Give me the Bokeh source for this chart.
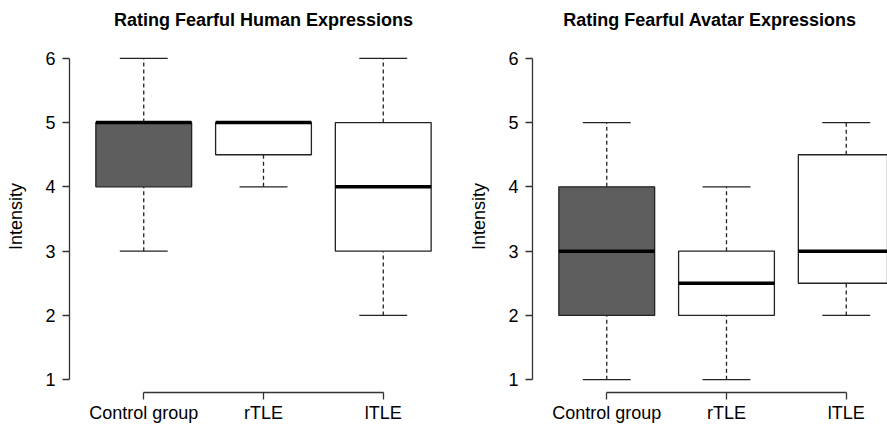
from bokeh.plotting import figure
from bokeh.layouts import row
from bokeh.models import FixedTicker
from bokeh.embed import file_html
from bokeh.resources import INLINE

categories = ["Control group", "rTLE", "lTLE"]
positions = [1, 2, 3]
fills = ["#5e5e5e", "#ffffff", "#ffffff"]

# Human expressions
human_low = [3, 4, 2]
human_q1 = [4, 4.5, 3]
human_med = [5, 5, 4]
human_q3 = [5, 5, 5]
human_high = [6, 5, 6]

# Avatar expressions
avatar_low = [1, 1, 2]
avatar_q1 = [2, 2, 2.5]
avatar_med = [3, 2.5, 3]
avatar_q3 = [4, 3, 4.5]
avatar_high = [5, 4, 5]

y_ticks = [1, 2, 3, 4, 5, 6]

FONT = "Liberation Sans"

TOP = 40
BOTTOM = 33
PX_PER_UNIT = 347 / 5.4
Y_END = 0.8 + (425 - TOP - BOTTOM) / PX_PER_UNIT


def make_panel(title, low, q1, med, q3, high, width, border_left, border_right, x_end):
    p = figure(width=width, height=425, output_backend="svg", toolbar_location=None,
               x_range=(0.38, x_end), y_range=(0.8, Y_END),
               min_border_left=border_left, min_border_right=border_right,
               min_border_top=TOP, min_border_bottom=BOTTOM, title=title)
    p.title.text_font = FONT
    p.title.text_font_size = "18px"
    p.title.text_font_style = "bold"
    p.title.align = "center"
    p.title.vertical_align = "top"
    p.title.text_color = "black"
    p.title.standoff = 18
    p.outline_line_color = None
    p.background_fill_color = "white"
    p.border_fill_color = "white"
    p.grid.visible = False

    bw = 0.8
    cw = 0.2
    # whiskers
    p.segment(x0=positions, y0=q3, x1=positions, y1=high, line_color="#222222",
              line_width=1.3, line_dash="4 3")
    p.segment(x0=positions, y0=low, x1=positions, y1=q1, line_color="#222222",
              line_width=1.3, line_dash="4 3")
    # caps
    p.segment(x0=[x - cw for x in positions], y0=high, x1=[x + cw for x in positions], y1=high,
              line_color="#222222", line_width=1.3)
    p.segment(x0=[x - cw for x in positions], y0=low, x1=[x + cw for x in positions], y1=low,
              line_color="#222222", line_width=1.3)
    # boxes
    p.vbar(x=positions, width=bw, bottom=q1, top=q3, fill_color=fills,
           line_color="#222222", line_width=1.3)
    # medians
    p.segment(x0=[x - bw / 2 for x in positions], y0=med, x1=[x + bw / 2 for x in positions], y1=med,
              line_color="black", line_width=3.5)

    # axes
    p.xaxis.ticker = FixedTicker(ticks=positions)
    p.xaxis.major_label_overrides = {pos: lab for pos, lab in zip(positions, categories)}
    p.xaxis.bounds = (1, 3)
    p.yaxis.ticker = FixedTicker(ticks=y_ticks)
    p.yaxis.bounds = (1, 6)
    p.yaxis.axis_label = "Intensity"
    for ax in (p.xaxis, p.yaxis):
        ax.axis_line_color = "#333333"
        ax.axis_line_width = 1.3
        ax.major_tick_line_color = "#333333"
        ax.major_tick_line_width = 1.3
        ax.major_tick_in = 0
        ax.major_tick_out = 7
        ax.minor_tick_line_color = None
        ax.major_label_text_font = FONT
        ax.major_label_text_font_size = "18px"
        ax.major_label_text_color = "black"
    p.xaxis.major_label_standoff = 3
    p.yaxis.major_label_standoff = 7
    p.yaxis.major_label_orientation = "horizontal"
    p.yaxis.axis_label_text_font = FONT
    p.yaxis.axis_label_text_font_size = "18px"
    p.yaxis.axis_label_text_font_style = "normal"
    p.yaxis.axis_label_text_color = "black"
    p.yaxis.axis_label_standoff = 16
    return p


p1 = make_panel("Rating Fearful Human Expressions", human_low, human_q1, human_med, human_q3,
                human_high, 465, 69, 8, 3.62)
p2 = make_panel("Rating Fearful Avatar Expressions", avatar_low, avatar_q1, avatar_med, avatar_q3,
                avatar_high, 422, 67, 0, 0.38 + 355 / 119.75)

layout = row(p1, p2)
open("out.html", "w").write(file_html(layout, INLINE))
